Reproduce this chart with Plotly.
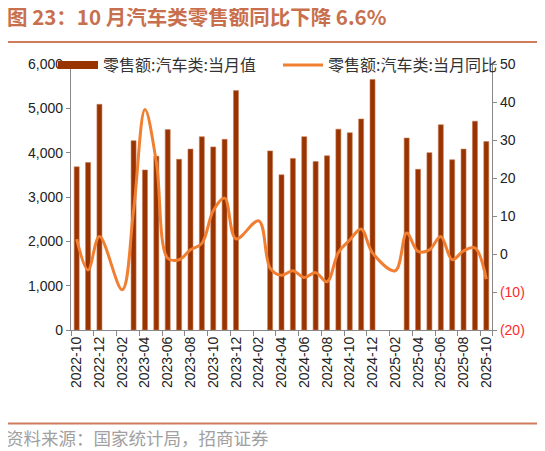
import plotly.graph_objects as go

# months 2022-10 .. 2025-10
months = ['2022-10', '2022-11', '2022-12',
          '2023-01', '2023-02', '2023-03', '2023-04', '2023-05', '2023-06',
          '2023-07', '2023-08', '2023-09', '2023-10', '2023-11', '2023-12',
          '2024-01', '2024-02', '2024-03', '2024-04', '2024-05', '2024-06',
          '2024-07', '2024-08', '2024-09', '2024-10', '2024-11', '2024-12',
          '2025-01', '2025-02', '2025-03', '2025-04', '2025-05', '2025-06',
          '2025-07', '2025-08', '2025-09', '2025-10']

# 零售额:汽车类:当月值 (亿元), Jan/Feb not published
retail_value = [3680, 3780, 5090,
                None, None, 4270, 3610, 3920, 4520,
                3850, 4080, 4360, 4130, 4300, 5400,
                None, None, 4040, 3500, 3870, 4360,
                3800, 3930, 4530, 4450, 4760, 5650,
                None, None, 4330, 3625, 4000, 4630,
                3840, 4080, 4710, 4250]

# 零售额:汽车类:当月同比 (%), Feb holds the Jan-Feb figure
retail_yoy = [3.9, -4.2, 4.6,
              None, -9.4, 11.5, 38.0, 24.2, -1.1,
              -1.5, 1.1, 2.8, 11.4, 14.7, 4.0,
              None, 8.7, -3.7, -5.6, -4.4, -6.2,
              -4.9, -7.3, 0.4, 3.7, 6.6, 0.3,
              None, -4.4, 5.5, 0.7, 1.1, 4.6,
              -1.5, 0.8, 1.6, -6.6]

left_ticks = [0, 1000, 2000, 3000, 4000, 5000, 6000]
right_ticks = [-20, -10, 0, 10, 20, 30, 40, 50]
right_text = ['<span style="color:#FF2A2A">(20)</span>',
              '<span style="color:#FF2A2A">(10)</span>',
              '0', '10', '20', '30', '40', '50']

bar_col = '#993300'
line_col = '#F07F32'

# the page puts the figure 8px in from the top-left, so the figure is 8px smaller
W, H = 537, 443
L, R, T, B = 63, 53, 56, 121
PW, PH = W - L - R, H - T - B   # plot area 421 x 266


def px(xx):  # page x -> paper x
    return (xx - 8 - L) / PW


def py(yy):  # page y -> paper y
    return 1 - (yy - 8 - T) / PH


fig = go.Figure()
fig.add_trace(go.Bar(
    x=months, y=retail_value, name='零售额:汽车类:当月值', showlegend=False,
    marker=dict(color=bar_col, line=dict(color='#C47A55', width=0.6)),
))
fig.add_trace(go.Scatter(
    x=months, y=retail_yoy, name='零售额:汽车类:当月同比', yaxis='y2',
    mode='lines', connectgaps=True, showlegend=False,
    line=dict(color=line_col, width=3, shape='spline', smoothing=1.0),
))
# legend entries (wide swatches like the original), one legend box each
fig.add_trace(go.Scatter(x=[None], y=[None], mode='lines', name='零售额:汽车类:当月值',
                         line=dict(color=bar_col, width=8), legend='legend'))
fig.add_trace(go.Scatter(x=[None], y=[None], mode='lines', name='零售额:汽车类:当月同比',
                         line=dict(color=line_col, width=3), legend='legend2'))

axis_col = '#888888'
leg_font = dict(family='Noto Sans CJK SC', size=16, color='#333333')
fig.update_layout(
    width=W, height=H,
    paper_bgcolor='white', plot_bgcolor='white',
    margin=dict(l=L, r=R, t=T, b=B, autoexpand=False),
    bargap=0.56,
    font=dict(family='Liberation Sans, Arial', size=14, color='#222222'),
    legend=dict(orientation='h', x=px(53), y=py(65), xanchor='left', yanchor='middle',
                bgcolor='rgba(0,0,0,0)', font=leg_font, itemwidth=40),
    legend2=dict(orientation='h', x=px(278), y=py(65), xanchor='left', yanchor='middle',
                 bgcolor='rgba(0,0,0,0)', font=leg_font, itemwidth=40),
    xaxis=dict(type='category', categoryorder='array', categoryarray=months,
               tickmode='array', tickvals=months[::2], ticktext=months[::2],
               tickson='boundaries',
               tickangle=-90, ticks='outside', ticklen=5, tickcolor=axis_col,
               showline=True, linecolor=axis_col, linewidth=1.2,
               showgrid=False, tickfont=dict(size=14, color='#222222')),
    yaxis=dict(range=[0, 6000], tickvals=left_ticks, tickformat=',',
               ticks='outside', ticklen=4, tickcolor=axis_col,
               showline=True, linecolor=axis_col, linewidth=1.2,
               showgrid=False, zeroline=False, tickfont=dict(size=14)),
    yaxis2=dict(range=[-20, 50], overlaying='y', side='right',
                tickvals=right_ticks, ticktext=right_text,
                ticks='outside', ticklen=4, tickcolor=axis_col,
                showline=True, linecolor=axis_col, linewidth=1.2,
                showgrid=False, zeroline=False, tickfont=dict(size=14)),
)

# title, rules and source
fig.add_annotation(text='<b>图 23：10 月汽车类零售额同比下降 6.6%</b>', xref='paper', yref='paper',
                   x=px(5), y=py(16), xanchor='left', yanchor='middle',
                   showarrow=False,
                   font=dict(family='Noto Sans CJK SC', size=20.5, color='#C8704E'))
fig.add_annotation(text='资料来源：国家统计局，招商证券', xref='paper', yref='paper',
                   x=px(4), y=py(437), xanchor='left', yanchor='middle',
                   showarrow=False,
                   font=dict(family='Noto Sans CJK SC', size=17.5, color='#A0A0A0'))
for yy in [42, 423.5]:
    fig.add_shape(type='line', xref='paper', yref='paper',
                  x0=px(5), x1=px(540), y0=py(yy), y1=py(yy),
                  line=dict(color='#D07C5C', width=2))

fig.write_html("out.html")
